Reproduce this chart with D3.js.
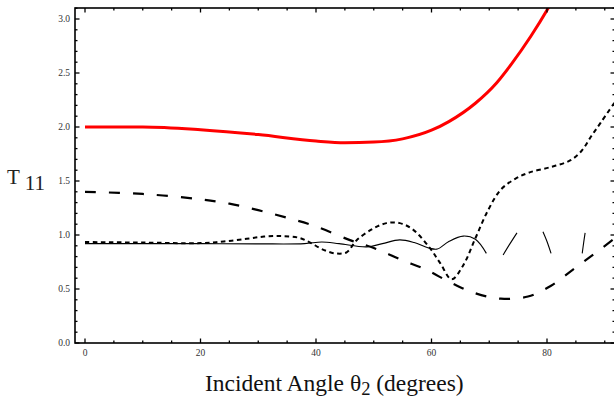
<!DOCTYPE html>
<html>
<head>
<meta charset="utf-8">
<script src="https://cdn.jsdelivr.net/npm/d3@7"></script>
<style>
  body { margin: 0; background: #fff; }
  svg { display: block; }
</style>
</head>
<body>
<svg id="chart" width="614" height="401"></svg>
<script>
// values
var redX = [0, 10, 20, 30, 40, 45, 50, 55, 60, 63, 67.6, 71.3, 73.8, 77.2, 80.2, 82];
var redY = [2.00, 2.00, 1.975, 1.93, 1.87, 1.855, 1.86, 1.89, 1.97, 2.05, 2.22, 2.41, 2.58, 2.84, 3.10, 3.27];

var longX = [0, 10, 20, 25, 30, 35, 40, 46, 50, 54.8, 59, 63.3, 67.6, 72, 76.7, 80.7, 84.5, 88.3, 92];
var longY = [1.40, 1.38, 1.33, 1.29, 1.23, 1.16, 1.08, 0.95, 0.88, 0.77, 0.68, 0.56, 0.46, 0.41, 0.43, 0.53, 0.68, 0.83, 0.98];

var shortX = [0, 10, 20, 24, 28, 31, 34, 37, 39, 41, 43.3, 45.3, 47, 49.9, 52.2, 54.5, 56.8, 59.7, 61.5, 63.5, 65.5, 67.6, 69.8, 72, 74.5, 77, 80.7, 84, 86, 87.6, 89.3, 92];
var shortY = [0.935, 0.93, 0.925, 0.94, 0.965, 0.985, 0.99, 0.975, 0.93, 0.87, 0.83, 0.84, 0.95, 1.06, 1.11, 1.11, 1.05, 0.88, 0.74, 0.59, 0.72, 0.97, 1.23, 1.42, 1.52, 1.58, 1.63, 1.69, 1.78, 1.91, 2.04, 2.25];

var thinX = [0, 10, 20, 30, 38, 41, 44, 48.8, 51.5, 54.5, 57, 59.5, 61, 63, 65.5, 67.6, 69.5];
var thinY = [0.92, 0.92, 0.92, 0.918, 0.92, 0.935, 0.92, 0.89, 0.92, 0.955, 0.93, 0.88, 0.87, 0.94, 0.99, 0.96, 0.83];

// loose pieces of the thin curve past 70 degrees
var thinPieces = [
    { x: [72.4, 73.6, 74.8], y: [0.815, 0.92, 1.02] },
    { x: [79.3, 80.0, 80.7], y: [1.03, 0.94, 0.83] },
    { x: [86.1, 86.35, 86.6], y: [0.83, 0.93, 1.02] }
];

var xTicks = [0, 20, 40, 60, 80];
var yTicks = [0, 0.5, 1.0, 1.5, 2.0, 2.5, 3.0];

var svg = d3.select("#chart");

var x = d3.scaleLinear().domain([0, 80]).range([85, 547]);
var y = d3.scaleLinear().domain([0, 3]).range([343, 19]);

var frameL = 75, frameR = 616, frameT = 8, frameB = 343;
var xMax = x.invert(frameR);
var yMax = y.invert(frameT);

svg.append("defs").append("clipPath").attr("id", "plot")
    .append("rect")
    .attr("x", frameL).attr("y", frameT)
    .attr("width", frameR - frameL).attr("height", frameB - frameT);

var zip = function(xs, ys) {
    return xs.map(function(d, i) { return [d, ys[i]]; });
};

var line = d3.line()
    .x(function(d) { return x(d[0]); })
    .y(function(d) { return y(d[1]); })
    .curve(d3.curveCatmullRom);

var smoothLine = d3.line()
    .x(function(d) { return x(d[0]); })
    .y(function(d) { return y(d[1]); })
    .curve(d3.curveMonotoneX);

var curves = svg.append("g").attr("clip-path", "url(#plot)");

curves.append("path")
    .datum(zip(thinX, thinY))
    .attr("d", line)
    .attr("fill", "none").attr("stroke", "#000").attr("stroke-width", 1.1);

thinPieces.forEach(function(p) {
    curves.append("path")
        .datum(zip(p.x, p.y))
        .attr("d", line)
        .attr("fill", "none").attr("stroke", "#000").attr("stroke-width", 1.1);
});

curves.append("path")
    .datum(zip(longX, longY))
    .attr("d", line)
    .attr("fill", "none").attr("stroke", "#000").attr("stroke-width", 2.2)
    .attr("stroke-dasharray", "11,13");

curves.append("path")
    .datum(zip(shortX, shortY))
    .attr("d", line)
    .attr("fill", "none").attr("stroke", "#000").attr("stroke-width", 2)
    .attr("stroke-dasharray", "4.5,3.5");

curves.append("path")
    .datum(zip(redX, redY))
    .attr("d", smoothLine)
    .attr("fill", "none").attr("stroke", "#f00").attr("stroke-width", 3);

// frame with inward ticks
var frame = svg.append("g");

var xMajor = d3.range(0, xMax, 20);
var xMinor = d3.range(0, xMax, 5).filter(function(d) { return d % 20 !== 0; });
var yMajor = d3.range(0, yMax + 1e-9, 0.5);
var yMinor = d3.range(0, yMax + 1e-9, 0.1).filter(function(d) {
    return Math.abs(d * 2 - Math.round(d * 2)) > 1e-6;
});

function xTickLines(at, dir, data, len) {
    frame.selectAll(null).data(data).enter().append("line")
        .attr("x1", function(d) { return x(d); })
        .attr("x2", function(d) { return x(d); })
        .attr("y1", at).attr("y2", at + dir * len)
        .attr("stroke", "#000").attr("stroke-width", 1.3);
}

function yTickLines(at, dir, data, len) {
    frame.selectAll(null).data(data).enter().append("line")
        .attr("y1", function(d) { return y(d); })
        .attr("y2", function(d) { return y(d); })
        .attr("x1", at).attr("x2", at + dir * len)
        .attr("stroke", "#000").attr("stroke-width", 1.3);
}

xTickLines(frameB, -1, xMajor, 4.5);
xTickLines(frameB, -1, xMinor, 2.5);
xTickLines(frameT, 1, xMajor, 4.5);
xTickLines(frameT, 1, xMinor, 2.5);
yTickLines(frameL, 1, yMajor, 4.5);
yTickLines(frameL, 1, yMinor, 2.5);
yTickLines(frameR - 1, -1, yMajor, 4.5);
yTickLines(frameR - 1, -1, yMinor, 2.5);

frame.append("rect")
    .attr("x", frameL).attr("y", frameT)
    .attr("width", frameR - frameL).attr("height", frameB - frameT)
    .attr("fill", "none").attr("stroke", "#000").attr("stroke-width", 1.6);

// tick labels
svg.append("g").selectAll("text").data(xTicks).enter().append("text")
    .attr("x", function(d) { return x(d); })
    .attr("y", 356)
    .attr("text-anchor", "middle")
    .attr("font-family", "Liberation Serif, serif")
    .attr("font-size", 9.5)
    .attr("fill", "#333")
    .text(function(d) { return d; });

svg.append("g").selectAll("text").data(yTicks).enter().append("text")
    .attr("x", 70)
    .attr("y", function(d) { return y(d) + 3; })
    .attr("text-anchor", "end")
    .attr("font-family", "Liberation Serif, serif")
    .attr("font-size", 9.5)
    .attr("fill", "#333")
    .text(function(d) { return d.toFixed(1); });

// axis titles
var yTitle = svg.append("text")
    .attr("x", 7).attr("y", 184)
    .attr("font-family", "Liberation Serif, serif")
    .attr("font-size", 21)
    .attr("fill", "#222");
yTitle.append("tspan").text("T");
yTitle.append("tspan").attr("dx", 5).attr("dy", 6).text("11");

var xTitle = svg.append("text")
    .attr("x", 205).attr("y", 391)
    .attr("font-family", "Liberation Serif, serif")
    .attr("font-size", 23.5)
    .attr("fill", "#111");
xTitle.append("tspan").text("Incident Angle ");
xTitle.append("tspan").text("θ");
xTitle.append("tspan").attr("dy", 4).attr("font-size", 18.5).text("2");
xTitle.append("tspan").attr("dy", -4).text(" (degrees)");
</script>
</body>
</html>
